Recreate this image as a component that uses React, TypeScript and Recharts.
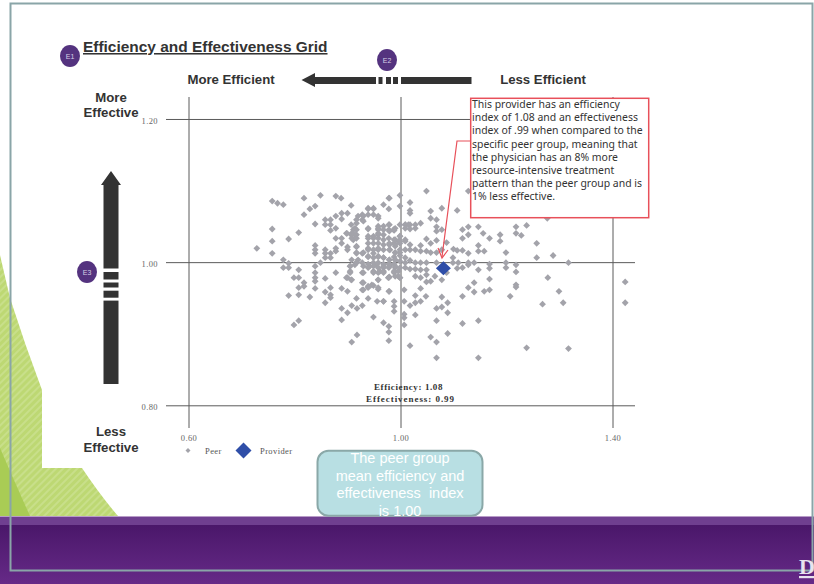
import { ScatterChart, Scatter, XAxis, YAxis, ReferenceLine, Legend } from "recharts";

// [efficiency, effectiveness], grouped by region of the grid
const peersFarLeft = [
  [0.757, 1.086], [0.767, 1.083], [0.778, 1.081], [0.817, 1.09], [0.848, 1.094], [0.877, 1.093], [0.887, 1.09],
  [0.838, 1.079], [0.828, 1.075], [0.817, 1.067], [0.906, 1.08], [0.757, 1.047], [0.807, 1.042], [0.838, 1.054],
  [0.788, 1.033], [0.757, 1.03], [0.728, 1.02], [0.757, 1.013], [0.838, 1.024], [0.838, 1.018], [0.838, 1.013],
  [0.857, 1.018], [0.857, 1.013], [0.857, 1.007], [0.867, 1.013], [0.867, 1.007], [0.877, 1.02], [0.877, 1.016],
  [0.888, 1.034], [0.888, 1.027], [0.877, 1.034], [0.899, 1.022], [0.899, 1.018], [0.857, 1.06], [0.857, 1.053],
  [0.867, 1.06], [0.867, 1.053], [0.867, 1.045], [0.877, 1.065], [0.877, 1.048], [0.888, 1.069], [0.888, 1.061],
  [0.899, 1.069], [0.778, 1.004], [0.788, 0.999], [0.778, 0.993], [0.788, 0.993], [0.848, 1.0],
];

const peersLowerLeft = [
  [0.838, 0.995], [0.838, 0.986], [0.838, 0.979], [0.838, 0.974], [0.838, 0.964], [0.807, 0.99], [0.807, 0.979],
  [0.798, 0.979], [0.817, 0.972], [0.817, 0.967], [0.807, 0.965], [0.807, 0.955], [0.788, 0.954], [0.828, 0.952],
  [0.857, 0.978], [0.877, 0.986], [0.857, 0.959], [0.867, 0.965], [0.867, 0.955], [0.867, 0.951], [0.857, 0.944],
  [0.888, 0.964], [0.899, 0.96], [0.899, 0.979], [0.906, 0.976], [0.927, 0.986], [0.904, 0.995], [0.904, 0.988],
  [0.916, 1.0], [0.888, 0.936], [0.899, 0.93], [0.888, 0.92], [0.907, 0.94], [0.917, 0.936], [0.927, 0.94],
  [0.916, 0.95], [0.938, 0.95], [0.927, 0.972], [0.927, 0.962], [0.938, 0.965], [0.948, 0.968], [0.957, 0.965],
  [0.957, 0.976], [0.955, 0.946], [0.967, 0.946], [0.948, 0.924], [0.967, 0.916], [0.977, 0.911], [0.977, 0.903],
  [0.977, 0.891], [0.917, 0.899], [0.907, 0.889], [0.798, 0.913], [0.807, 0.919], [0.987, 0.946], [0.987, 0.939],
  [0.987, 0.932], [0.977, 0.96], [0.977, 0.979], [0.987, 0.986], [0.995, 0.981],
];

const peersUpperCentre = [
  [0.906, 1.053], [0.91, 1.046], [0.916, 1.046], [0.906, 1.039], [0.916, 1.039], [0.91, 1.032], [0.898, 1.041],
  [0.916, 1.06], [0.927, 1.067], [0.927, 1.06], [0.938, 1.075], [0.948, 1.075], [0.938, 1.067], [0.948, 1.067],
  [0.957, 1.065], [0.957, 1.051], [0.957, 1.046], [0.938, 1.047], [0.967, 1.081], [0.977, 1.09], [0.977, 1.075],
  [0.938, 1.034], [0.938, 1.027], [0.938, 1.018], [0.948, 1.034], [0.948, 1.027], [0.957, 1.034], [0.957, 1.039],
  [0.967, 1.046], [0.967, 1.039], [0.977, 1.053], [0.977, 1.046], [0.987, 1.045], [0.977, 1.034], [0.987, 1.032],
  [0.987, 1.027], [0.995, 1.03], [0.916, 1.022], [0.916, 1.013], [0.927, 1.013], [0.938, 1.008], [0.948, 1.013],
  [0.957, 1.008], [0.967, 1.007], [0.979, 1.018], [0.957, 1.018], [0.987, 1.008],
];

const peersDense = [
  [0.907, 1.041], [0.913, 1.048], [0.913, 1.039], [0.907, 1.034], [0.916, 1.034], [0.897, 1.041], [0.916, 1.055],
  [0.929, 1.065], [0.938, 1.076], [0.948, 1.076], [0.957, 1.062], [0.929, 1.058], [0.919, 1.065], [0.938, 1.048],
  [0.938, 1.037], [0.948, 1.037], [0.957, 1.048], [0.957, 1.041], [0.967, 1.051], [0.978, 1.053], [0.978, 1.044],
  [0.989, 1.048], [0.998, 1.037], [1.008, 1.053], [1.014, 1.053], [0.957, 1.027], [0.967, 1.032], [0.978, 1.027],
  [0.989, 1.023], [0.998, 1.027], [1.008, 1.03], [0.938, 1.02], [0.948, 1.018], [0.957, 1.02], [0.967, 1.018],
  [0.978, 1.018], [0.989, 1.014], [0.998, 1.014], [1.008, 1.018], [0.916, 1.023], [0.916, 1.014], [0.929, 1.014],
  [0.907, 1.004], [0.919, 1.004], [0.938, 1.009], [0.948, 1.007], [0.957, 1.009], [0.967, 1.007], [0.978, 1.004],
  [0.989, 1.004], [1.008, 1.007], [0.904, 0.995], [0.913, 0.997], [0.929, 0.995], [0.941, 0.995], [0.954, 0.997],
  [0.967, 0.995], [0.979, 0.997], [0.989, 0.993], [0.948, 0.988], [0.96, 0.988], [0.904, 0.986], [0.929, 0.986],
  [0.897, 0.979], [0.907, 0.976], [0.929, 0.972], [0.945, 0.969], [0.957, 0.976], [0.976, 0.979], [0.998, 0.979],
  [0.929, 0.962], [0.938, 0.967], [0.957, 0.963], [0.978, 0.96],
];

const peersMeanRow = [
  [0.916, 1.0], [0.927, 1.0], [0.938, 0.998], [0.948, 1.0], [0.957, 1.0], [0.967, 0.998], [0.977, 0.998],
  [0.987, 0.998], [0.938, 0.993], [0.948, 0.995], [0.957, 0.993], [0.967, 0.993], [0.977, 0.993], [0.987, 0.988],
  [0.995, 0.988], [0.948, 0.986], [0.957, 0.986], [0.967, 0.988], [0.978, 1.004], [0.989, 1.004], [0.998, 1.002],
  [1.008, 1.0], [1.017, 1.003], [1.027, 1.0], [1.037, 1.0], [1.048, 1.0], [1.067, 1.0], [1.108, 1.0],
  [1.127, 1.0], [1.138, 1.0], [1.167, 0.998], [1.198, 1.0], [1.217, 0.997], [1.256, 1.007], [1.287, 1.01],
  [1.316, 1.0], [0.978, 0.995], [0.989, 0.995], [0.998, 0.993], [1.008, 0.993], [1.017, 0.991], [1.027, 0.991],
  [1.037, 0.99], [1.048, 0.99], [1.098, 1.007], [1.098, 1.0],
];

const peersUpperRight = [
  [0.978, 1.09], [0.998, 1.094], [1.048, 1.1], [1.127, 1.1], [0.998, 1.079], [1.017, 1.084], [1.017, 1.073],
  [1.017, 1.069], [1.056, 1.072], [1.056, 1.062], [1.077, 1.076], [1.106, 1.073], [1.067, 1.06], [0.986, 1.046],
  [0.998, 1.053], [1.008, 1.053], [1.017, 1.053], [1.027, 1.053], [1.037, 1.055], [1.027, 1.048], [1.008, 1.048],
  [1.017, 1.047], [1.067, 1.05], [1.067, 1.044], [1.077, 1.046], [1.116, 1.046], [1.127, 1.05], [1.127, 1.039],
  [1.116, 1.034], [1.146, 1.05], [1.155, 1.041], [1.167, 1.034], [1.187, 1.039], [1.187, 1.03], [1.217, 1.05],
  [1.217, 1.041], [1.227, 1.038], [1.237, 1.052], [1.256, 1.027], [1.276, 1.062], [0.989, 1.032], [0.998, 1.037],
  [1.008, 1.032], [0.998, 1.03], [0.989, 1.025], [0.967, 1.025], [0.978, 1.025], [1.048, 1.033], [1.056, 1.027],
  [1.067, 1.031], [1.086, 1.028], [1.017, 1.025], [1.017, 1.018], [1.027, 1.018], [1.037, 1.024], [1.037, 1.016],
  [1.048, 1.016], [1.056, 1.014], [1.067, 1.014], [1.077, 1.018], [1.099, 1.019], [1.106, 1.017], [1.116, 1.017],
  [1.127, 1.013], [1.146, 1.024], [1.146, 1.016], [1.157, 1.016], [1.198, 1.014], [0.989, 1.014], [0.998, 1.018],
  [0.998, 1.01],
];

const peersLowerRight = [
  [0.967, 0.986], [0.978, 0.98], [0.989, 0.981], [0.998, 0.979], [1.027, 0.981], [1.037, 0.979], [1.048, 0.983],
  [1.056, 0.974], [1.048, 0.973], [1.064, 0.981], [1.086, 0.986], [1.106, 0.992], [1.116, 0.993], [1.127, 0.997],
  [1.146, 0.99], [1.167, 0.992], [1.167, 0.977], [1.198, 0.993], [1.217, 0.987], [1.277, 0.979], [1.077, 0.976],
  [1.138, 0.972], [1.127, 0.965], [1.138, 0.959], [1.167, 0.962], [1.157, 0.96], [1.116, 0.953], [1.217, 0.969],
  [1.217, 0.966], [1.206, 0.953], [1.298, 0.96], [1.006, 0.962], [1.037, 0.964], [1.027, 0.954], [1.047, 0.953],
  [1.037, 0.946], [1.027, 0.944], [1.017, 0.94], [1.006, 0.946], [0.967, 0.946], [1.077, 0.952], [1.088, 0.944],
  [1.077, 0.938], [1.067, 0.936], [1.088, 0.93], [1.006, 0.928], [1.006, 0.923], [1.027, 0.927], [1.006, 0.913],
  [1.067, 0.919], [1.116, 0.915], [1.146, 0.919], [1.088, 0.901], [1.056, 0.896], [1.067, 0.889], [1.017, 0.884],
  [1.067, 0.867], [1.146, 0.867], [1.237, 0.881], [1.316, 0.88], [1.267, 0.942], [1.306, 0.944], [1.423, 0.973],
  [1.423, 0.944],
];

const providerPoint = [1.08, 0.992];
const xTicks = [0.6, 1.0, 1.4];
const yTicks = [0.8, 1.0, 1.2];
const calloutLines = [
  "This provider has an efficiency",
  "index of 1.08 and an effectiveness",
  "index of .99 when compared to the",
  "specific peer group, meaning that",
  "the physician has an 8% more",
  "resource-intensive treatment",
  "pattern than the peer group and is",
  "1% less effective.",
];
const noteLines = ["The peer group", "mean efficiency and", "effectiveness  index", "is 1.00"];

const toRows = (list: number[][]) => list.map(([x, y]) => ({ x, y }));
const peerData = toRows([
  ...peersFarLeft,
  ...peersLowerLeft,
  ...peersUpperCentre,
  ...peersDense,
  ...peersMeanRow,
  ...peersUpperRight,
  ...peersLowerRight,
]);
const providerData = toRows([providerPoint]);

const SANS = "'Liberation Sans', Arial, sans-serif";
const SERIF = "'Liberation Serif', 'Times New Roman', serif";
const PEER = "#a3a3aa";
const PROVIDER = "#2f4ea8";
const DARK = "#333333";
const AXIS = "#5a5a5a";

const PeerDot = (props: any) => {
  const { cx, cy } = props;
  return <polygon points={`${cx - 3.4},${cy} ${cx},${cy - 3.4} ${cx + 3.4},${cy} ${cx},${cy + 3.4}`} fill={PEER} />;
};

const ProviderDot = (props: any) => {
  const { cx, cy } = props;
  return <polygon points={`${cx - 7.5},${cy} ${cx},${cy - 7} ${cx + 7.5},${cy} ${cx},${cy + 7}`} fill={PROVIDER} />;
};

const KeyContent = () => (
  <div style={{ position: "relative", width: 125, height: 20, fontFamily: SERIF, fontSize: 8.5, color: "#555", letterSpacing: 0.4 }}>
    <svg width={125} height={20} style={{ position: "absolute", left: 0, top: 0 }}>
      <polygon points="8,7 10.5,9.5 8,12 5.5,9.5" fill={PEER} />
      <polygon points="63.5,1.5 71.5,9.5 63.5,17.5 55.5,9.5" fill={PROVIDER} />
    </svg>
    <span style={{ position: "absolute", left: 25, top: 5 }}>Peer</span>
    <span style={{ position: "absolute", left: 80, top: 5 }}>Provider</span>
  </div>
);

const XTick = ({ x, y, payload }: any) => (
  <text x={x} y={y + 7} textAnchor="middle" fontFamily={SERIF} fontSize={8.5} fill="#666" letterSpacing={0.4}>
    {payload.value.toFixed(2)}
  </text>
);

const YTick = ({ x, y, payload }: any) => (
  <text x={x} y={y + 4.5} textAnchor="end" fontFamily={SERIF} fontSize={8.5} fill="#666" letterSpacing={0.4}>
    {payload.value.toFixed(2)}
  </text>
);

const Badge = ({ x, y, label }: { x: number; y: number; label: string }) => (
  <g>
    <ellipse cx={x} cy={y} rx={10} ry={11} fill="#54337f" />
    <text x={x} y={y + 2.5} textAnchor="middle" fontFamily={SANS} fontSize={7} fill="#d8cfe6">{label}</text>
  </g>
);

const Backdrop = () => (
  <svg width={814} height={584} style={{ position: "absolute", left: 0, top: 0 }}>
    <defs>
      <pattern id="stripes" width={5} height={5} patternUnits="userSpaceOnUse" patternTransform="rotate(45)">
        <rect width={5} height={5} fill="#bdd873" />
        <rect width={2} height={5} fill="#c8df8a" />
      </pattern>
      <linearGradient id="band" x1="0" y1="0" x2="0" y2="1">
        <stop offset="0" stopColor="#4a176a" />
        <stop offset="1" stopColor="#662a87" />
      </linearGradient>
    </defs>
    <rect width={814} height={584} fill="#ffffff" />
    <path d="M0,255 L10,298 Q25,345 42,390 L42,468 L82,468 Q100,495 118,516 L0,516 Z" fill="url(#stripes)" />
    <path d="M0,448 Q16,485 30,516 L0,516 Z" fill="#a9cc55" />
    <rect x={0} y={516} width={814} height={1.5} fill="#b89cc8" />
    <rect x={0} y={517} width={814} height={8} fill="#6f3f90" />
    <rect x={0} y={525} width={814} height={59} fill="url(#band)" />
  </svg>
);

const Annotations = () => (
  <svg width={814} height={584} style={{ position: "absolute", left: 0, top: 0 }}>
    <rect x={10.5} y={3.5} width={802} height={567} fill="none" stroke="#8aa5a8" strokeWidth={2} />
    <text x={799} y={574} fontFamily={SERIF} fontWeight="bold" fontSize={22} fill="#e8e4ee" textDecoration="underline">D</text>

    <text x={83} y={52} fontFamily={SANS} fontWeight="bold" fontSize={15.45} fill={DARK} textDecoration="underline">
      Efficiency and Effectiveness Grid
    </text>
    <text x={231} y={84} textAnchor="middle" fontFamily={SANS} fontWeight="bold" fontSize={13.2} fill={DARK}>More Efficient</text>
    <text x={543} y={84} textAnchor="middle" fontFamily={SANS} fontWeight="bold" fontSize={13.2} fill={DARK}>Less Efficient</text>
    <text x={111} y={102} textAnchor="middle" fontFamily={SANS} fontWeight="bold" fontSize={13.2} fill={DARK}>More</text>
    <text x={111} y={117} textAnchor="middle" fontFamily={SANS} fontWeight="bold" fontSize={13.2} fill={DARK}>Effective</text>
    <text x={111} y={436} textAnchor="middle" fontFamily={SANS} fontWeight="bold" fontSize={13.2} fill={DARK}>Less</text>
    <text x={111} y={452} textAnchor="middle" fontFamily={SANS} fontWeight="bold" fontSize={13.2} fill={DARK}>Effective</text>

    <Badge x={70} y={56} label="E1" />
    <Badge x={387} y={60} label="E2" />
    <Badge x={87} y={272} label="E3" />

    <g fill={DARK}>
      <path d="M301.5,80 L315,73 L315,77 L376,77 L376,84 L315,84 L315,87 Z" />
      <rect x={378.5} y={77} width={4} height={7} />
      <rect x={386} y={77} width={5} height={7} />
      <rect x={393} y={77} width={5} height={7} />
      <rect x={401} y={77} width={70.5} height={7} />
      <path d="M111,171 L121,185 L118.5,185 L118.5,268.5 L103.5,268.5 L103.5,185 L101,185 Z" />
      <rect x={103.5} y={272} width={15} height={7.5} />
      <rect x={103.5} y={282.5} width={15} height={5} />
      <rect x={103.5} y={290.7} width={15} height={7} />
      <rect x={103.5} y={300.6} width={15} height={83.4} />
    </g>

    <text x={408.5} y={390} textAnchor="middle" fontFamily={SERIF} fontWeight="bold" fontSize={9} fill={DARK} letterSpacing={0.6}>Efficiency: 1.08</text>
    <text x={410.5} y={402} textAnchor="middle" fontFamily={SERIF} fontWeight="bold" fontSize={9} fill={DARK} letterSpacing={0.95}>Effectiveness: 0.99</text>

    <path d="M470,141 L457,141 L442,257" fill="none" stroke="#e8505a" strokeWidth={1.2} />
    <path d="M438,248 L442,258 L448,250" fill="none" stroke="#e8505a" strokeWidth={1.2} />
    <rect x={470.7} y={98.3} width={178} height={119.4} fill="#ffffff" stroke="#e8505a" strokeWidth={1.5} />
    {calloutLines.map((line, i) => (
      <text key={line} x={472} y={108 + i * 13.2} fontFamily="'Noto Sans', sans-serif" fontSize={10.45} fill={DARK}>{line}</text>
    ))}

    <rect x={317.5} y={450.7} width={165} height={65} rx={11} fill="#b8dfe3" stroke="#8aa8a8" strokeWidth={2} />
    {noteLines.map((line, i) => (
      <text key={line} x={400} y={463 + i * 17.5} textAnchor="middle" fontFamily={SANS} fontSize={14.5} fill="#ffffff" xmlSpace="preserve">{line}</text>
    ))}
  </svg>
);

export default function App() {
  return (
    <div style={{ position: "absolute", left: 0, top: 0, width: 814, height: 584, overflow: "hidden" }}>
      <Backdrop />
      <div style={{ position: "absolute", left: 0, top: 0 }}>
        <ScatterChart width={814} height={584} margin={{ top: 97, right: 179, bottom: 126, left: 136 }}>
          <XAxis
            type="number"
            dataKey="x"
            domain={[0.5566, 1.4415]}
            ticks={xTicks}
            height={30}
            axisLine={false}
            tickLine={false}
            tickMargin={0}
            tick={<XTick />}
            interval={0}
          />
          <YAxis
            type="number"
            dataKey="y"
            domain={[0.769, 1.2314]}
            ticks={yTicks}
            width={30}
            axisLine={false}
            tickLine={false}
            tick={<YTick />}
            interval={0}
          />
          {xTicks.map((t) => (
            <ReferenceLine key={`x${t}`} x={t} stroke={AXIS} />
          ))}
          {yTicks.map((t) => (
            <ReferenceLine key={`y${t}`} y={t} stroke={AXIS} />
          ))}
          <Legend
            layout="horizontal"
            verticalAlign="middle"
            align="center"
            content={<KeyContent />}
            wrapperStyle={{ left: 180, top: 441, width: 125, height: 20, margin: 0 }}
          />
          <Scatter name="Peer" data={peerData} shape={<PeerDot />} isAnimationActive={false} />
          <Scatter name="Provider" data={providerData} shape={<ProviderDot />} isAnimationActive={false} />
        </ScatterChart>
      </div>
      <Annotations />
    </div>
  );
}
